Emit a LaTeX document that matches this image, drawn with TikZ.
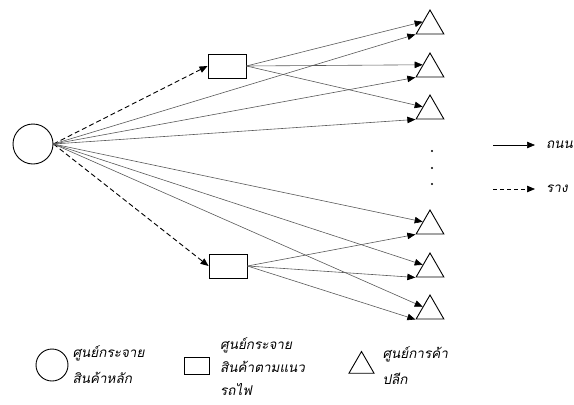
\documentclass[tikz,border=0pt]{standalone}
\usepackage{fontspec}
\newfontfamily\thaifont[Script=Thai,FakeSlant=0.2]{Loma}
\usetikzlibrary{arrows.meta,positioning,shapes.geometric}

\begin{document}
\begin{tikzpicture}[
  x=1pt, y=-1pt,
  font=\thaifont\fontsize{13.5}{26}\selectfont,
  hub/.style={circle, draw, line width=0.9pt, minimum size=40pt, inner sep=0pt},
  rail/.style={rectangle, draw, line width=0.9pt, minimum width=38pt, minimum height=24pt, inner sep=0pt},
  shop/.style={regular polygon, regular polygon sides=3, draw, line width=0.9pt, minimum size=32pt, inner sep=0pt},
  dot/.style={circle, fill, inner sep=0pt, minimum size=2.2pt},
  road/.style={-{Triangle[length=8pt,width=6.5pt,color=black]}, draw=black!65, line width=0.6pt},
  train/.style={-{Triangle[length=8pt,width=6.5pt,color=black]}, dash pattern=on 5pt off 3pt, line width=0.9pt},
  lbl/.style={align=left, anchor=west, inner sep=0pt}
]
  \useasboundingbox (0,0) rectangle (574,405);

  \node[hub] (dc) at (33,144) {};
  \node[rail] (ra) at (227,66) {};
  \node[rail] (rb) at (228,266) {};

  \node[shop] (s1) at (430,26) {};
  \node[shop] (s2) at (430,69) {};
  \node[shop] (s3) at (430,111) {};
  \node[shop] (s4) at (430,226) {};
  \node[shop] (s5) at (430,269) {};
  \node[shop] (s6) at (430,311) {};

  \node[dot] (d1) at (432,151) {};
  \node[dot] (d2) at (432,168) {};
  \node[dot] (d3) at (432,184) {};

  % from the main centre
  \draw[train] (dc.east) -- (ra.west);
  \draw[train] (dc.east) -- (rb.west);
  \draw[road] (dc.east) -- (s1.corner 2);
  \draw[road] (dc.east) -- (s2.corner 2);
  \draw[road] (dc.east) -- (s3.corner 2);
  \draw[road] (dc.east) -- (s4.side 1);
  \draw[road] (dc.east) -- (s5.side 1);
  \draw[road] (dc.east) -- (s6.side 1);

  % from the rail centres
  \draw[road] (ra.east) -- (s1.side 1);
  \draw[road] (ra.east) -- (s2.side 1);
  \draw[road] (ra.east) -- (s3.side 1);
  \draw[road] (rb.east) -- (s4.corner 2);
  \draw[road] (rb.east) -- (s5.corner 2);
  \draw[road] (rb.east) -- (s6.corner 2);

  % legend
  \coordinate (roadA) at (493,145);
  \coordinate (roadB) at (535,145);
  \draw[road, draw=black] (roadA) -- (roadB);
  \node[lbl, right=11pt of roadB] (roadtxt) {ถนน};
  \coordinate (trainA) at (493,189);
  \coordinate (trainB) at (535,189);
  \draw[train, dash pattern=on 4pt off 3pt, line width=0.7pt] (trainA) -- (trainB);
  \node[lbl, right=11pt of trainB] (traintxt) {ราง};

  \node[hub, minimum size=32pt] (khub) at (52,365) {};
  \node[lbl, right=4pt of khub] (khubtxt) {ศูนย์กระจาย\\สินค้าหลัก};
  \node[rail, minimum width=25pt, minimum height=17pt] (krail) at (196.5,365.5) {};
  \node[lbl, anchor=north west, font=\thaifont\fontsize{13.5}{23}\selectfont] (krailtxt) at (220,337) {ศูนย์กระจาย\\สินค้าตามแนว\\รถไฟ};
  \node[shop, minimum size=29pt] (kshop) at (361.5,366) {};
  \node[lbl, right=12pt of kshop] (kshoptxt) {ศูนย์การค้า\\ปลีก};
\end{tikzpicture}
\end{document}
